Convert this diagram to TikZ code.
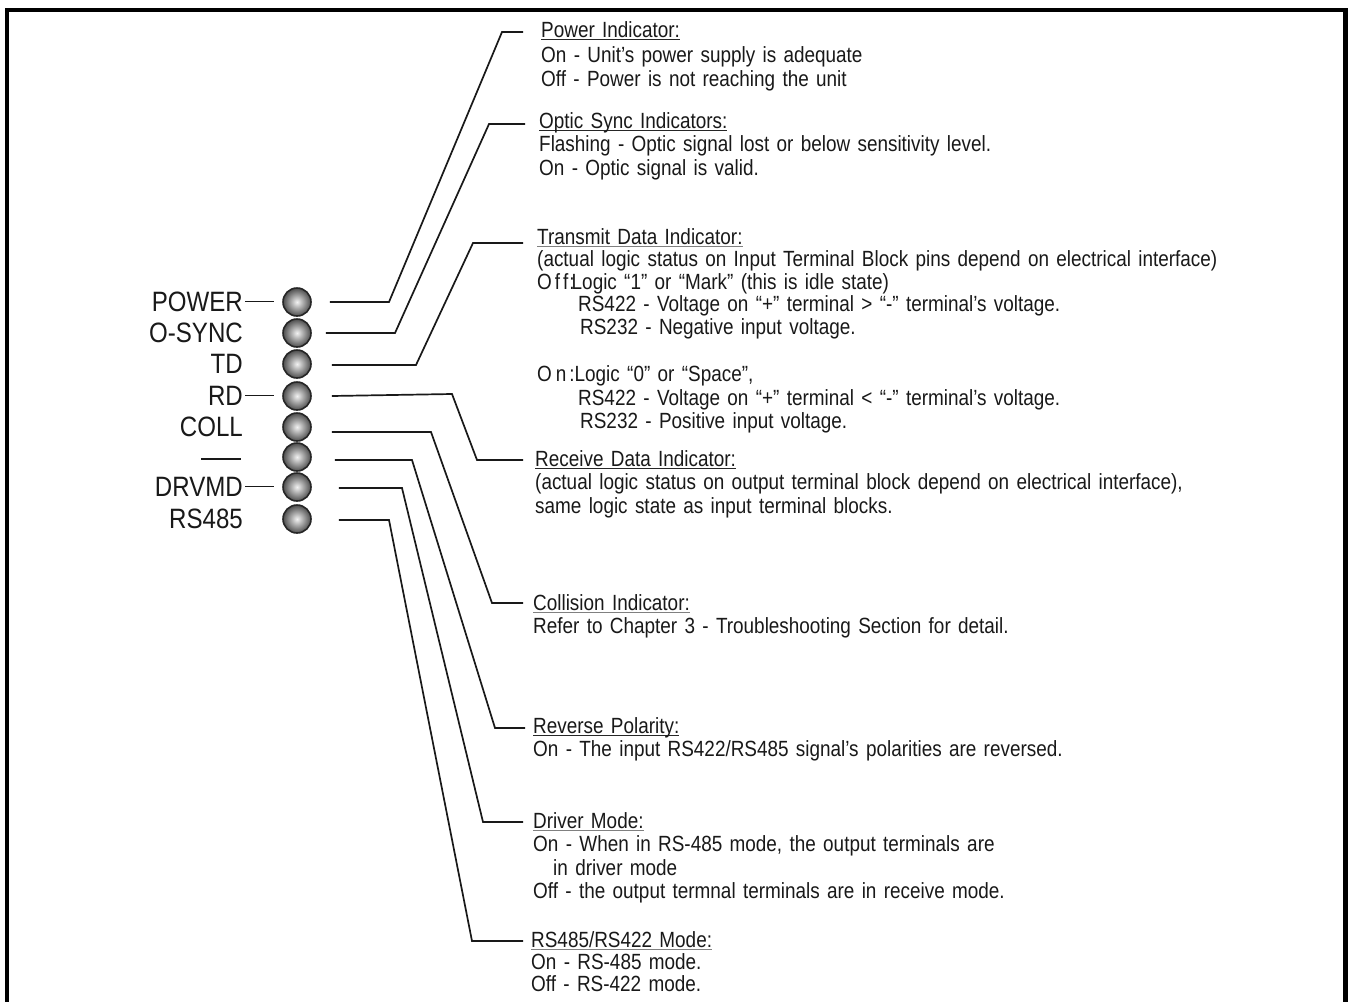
\documentclass[tikz,border=0pt]{standalone}
\usepackage{fontspec}
\setmainfont[FakeStretch=0.86]{Liberation Sans}
\newfontfamily\lblfont[FakeStretch=0.86]{Liberation Sans}
\newcommand\ulin[2][black!85]{\setbox0\hbox{#2}\rlap{\color{#1}\rule[-3pt]{\wd0}{1.3pt}}\box0}
\tikzset{
  frameline/.style={line width=4.5pt, black},
  leader/.style={line width=1.7pt, black!90, line join=miter},
  lbldash/.style={line width=1.6pt, black!90},
  lbl/.style={font=\lblfont\fontsize{28}{30}\selectfont, anchor=base east, inner sep=0pt, text=black!90},
  led/.style={circle, minimum size=28pt, inner sep=0pt, draw=black!85, line width=1.6pt,
              inner color=gray!10, outer color=gray!60!black},
  block/.style={anchor=base west, inner sep=0pt, align=left, text width=720pt,
                font=\fontsize{22}{23.5}\selectfont, text=black!90},
}
\begin{document}
\begin{tikzpicture}[x=1pt,y=-1pt]
\useasboundingbox (0,0) rectangle (1348,1001);
\fill[white] (0,0) rectangle (1348,1001);
% frame
\draw[frameline] (7,1010) -- (7,10) -- (1345.5,10) -- (1345.5,1010);

% labels
\node[lbl] (P1) at (243,311) {POWER};
\node[lbl] (P2) at (243,342) {O-SYNC};
\node[lbl] (P3) at (243,373.5) {TD};
\node[lbl] (P4) at (243,405) {RD};
\node[lbl] (P5) at (243,436) {COLL};
\coordinate (P6) at (201,459);
\node[lbl] (P7) at (243,496) {DRVMD};
\node[lbl] (P8) at (243,528) {RS485};

% LEDs
\node[led] (L1) at (297,302) {};
\node[led] (L2) at (297,333) {};
\node[led] (L3) at (297,364) {};
\node[led] (L4) at (297,396) {};
\node[led] (L5) at (297,427) {};
\node[led] (L6) at (297,457) {};
\node[led] (L7) at (297,487) {};
\node[led] (L8) at (297,519) {};

% label dashes
\draw[lbldash] ([xshift=2pt]P1.east) -- ([xshift=-8pt]P1.east -| L1.west);
\draw[lbldash] ([xshift=2pt]P4.east) -- ([xshift=-8pt]P4.east -| L4.west);
\draw[lbldash] ([xshift=2pt]P7.east) -- ([xshift=-8pt]P7.east -| L7.west);
\draw[lbldash] (P6) -- ++(40,0);

% description blocks
\node[block] (B1) at (541,37) {\ulin{Power Indicator:}\\[1.5pt]
On - Unit's power supply is adequate\\[1pt]
Off - Power is not reaching the unit};

\node[block] (B2) at (539,128) {\ulin{Optic Sync Indicators:}\\
Flashing - Optic signal lost or below sensitivity level.\\
On - Optic signal is valid.};

\node[block] (B3) at (537,244) {\ulin[gray]{Transmit Data Indicator:}\\[-1pt]
(actual logic status on Input Terminal Block pins depend on electrical interface)\\[-1pt]
O\kern3pt f\kern3pt f\kern1pt:\kern-3pt Logic “1” or “Mark” (this is idle state)\\[-1pt]
\hspace*{41pt}RS422 - Voltage on “+” terminal > “-” terminal’s voltage.\\[-1pt]
\hspace*{43pt}RS232 - Negative input voltage.\\[24pt]
O\kern4pt n\kern3pt:Logic “0” or “Space”,\\[0.5pt]
\hspace*{41pt}RS422 - Voltage on “+” terminal < “-” terminal’s voltage.\\[-0.5pt]
\hspace*{43pt}RS232 - Positive input voltage.};

\node[block] (B4) at (535,466) {\ulin{Receive Data Indicator:}\\
(actual logic status on output terminal block depend on electrical interface),\\
same logic state as input terminal blocks.};

\node[block] (B5) at (533,610) {\ulin[gray]{Collision Indicator:}\\
Refer to Chapter 3 - Troubleshooting Section for detail.};

\node[block] (B6) at (533,733) {\ulin{Reverse Polarity:}\\
On - The input RS422/RS485 signal’s polarities are reversed.};

\node[block] (B7) at (533,828) {\ulin[gray]{Driver Mode:}\\
On - When in RS-485 mode, the output terminals are\\
\hspace*{20pt}in driver mode\\
Off - the output termnal terminals are in receive mode.};

\node[block] (B8) at (531,947) {\ulin[gray]{RS485/RS422 Mode:}\\[-1.5pt]
On - RS-485 mode.\\[-1.5pt]
Off - RS-422 mode.};

% leader end points
\coordinate (E1) at ([xshift=-18pt,yshift=5pt]B1.base west);
\coordinate (E2) at ([xshift=-14pt,yshift=4pt]B2.base west);
\coordinate (E3) at ([xshift=-14pt,yshift=1pt]B3.base west);
\coordinate (E4) at ([xshift=-12pt,yshift=6pt]B4.base west);
\coordinate (E5) at ([xshift=-10pt,yshift=7pt]B5.base west);
\coordinate (E6) at ([xshift=-8pt,yshift=5pt]B6.base west);
\coordinate (E7) at ([xshift=-10pt,yshift=6pt]B7.base west);
\coordinate (E8) at ([xshift=-8pt,yshift=6pt]B8.base west);

% leaders
\draw[leader] ([xshift=18pt]L1.east) -- (389,302) -- (502,0 |- E1) -- (E1);
\draw[leader] ([xshift=14pt]L2.east) -- (395,333) -- (489,0 |- E2) -- (E2);
\draw[leader] ([xshift=20pt,yshift=-1pt]L3.east) -- (416,365) -- (473,0 |- E3) -- (E3);
\draw[leader] ([xshift=20pt]L4.east) -- (452,394) -- (477,0 |- E4) -- (E4);
\draw[leader] ([xshift=20pt,yshift=-5pt]L5.east) -- (431,432) -- (492,0 |- E5) -- (E5);
\draw[leader] ([xshift=23pt,yshift=-3pt]L6.east) -- (412,460) -- (495,0 |- E6) -- (E6);
\draw[leader] ([xshift=27pt,yshift=-1pt]L7.east) -- (402,488) -- (483,0 |- E7) -- (E7);
\draw[leader] ([xshift=27pt,yshift=-1pt]L8.east) -- (389,520) -- (472,0 |- E8) -- (E8);
\end{tikzpicture}
\end{document}
